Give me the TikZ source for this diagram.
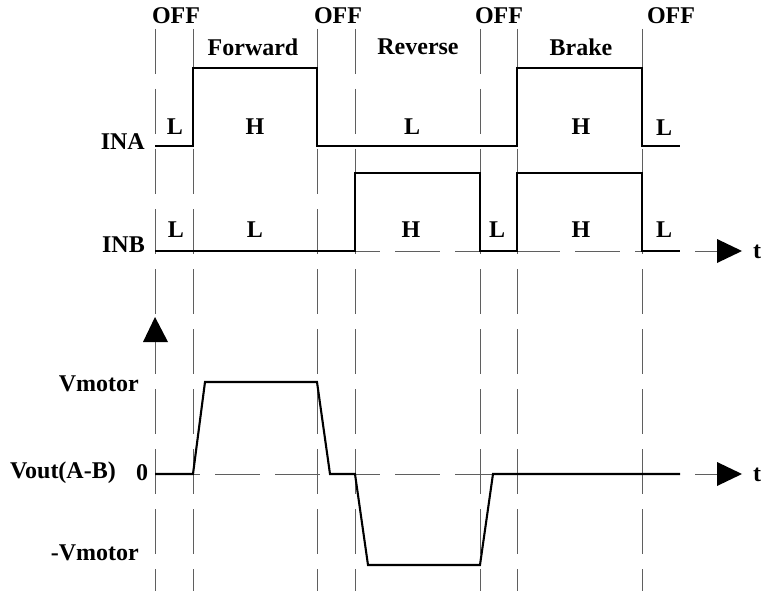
\documentclass[tikz,border=0pt]{standalone}
\usepackage{fontspec}
\setmainfont{Liberation Serif}
\definecolor{gridgray}{RGB}{95,95,95}
\begin{document}
\begin{tikzpicture}[x=1pt,y=-1pt,
  sig/.style={line width=2.1pt, line join=miter},
  gridline/.style={draw=gridgray, line width=1pt, dash pattern=on 45pt off 15pt},
  lbl/.style={font=\fontsize{24}{28}\selectfont\bfseries, inner sep=0pt},
  tip/.style={fill=black}]
\useasboundingbox (0,0) rectangle (763,591);
% vertical dashed lines
\foreach \x in {155,193,317,355,480,517,642}
  \draw[gridline] (\x,29) -- (\x,591);
% horizontal axes
\coordinate (tb0) at (155,251);
\coordinate (tb1) at (717,251);
\coordinate (tv0) at (155,474);
\coordinate (tv1) at (717,474);
\draw[gridline] (tb0) -- (tb1);
\draw[gridline] (tv0) -- (tv1);
% arrow heads
\fill[tip] (717,239) -- (742,251) -- (717,263) -- cycle;
\fill[tip] (717,462) -- (742,474) -- (717,486) -- cycle;
\fill[tip] (143,342) -- (155,317) -- (168,342) -- cycle;
% signals
\draw[sig] (155,146) -| (193,68) -| (317,146) -| (517,68) -| (642,146) -- (680,146);
\draw[sig] (155,251) -| (355,173) -| (480,251) -| (517,173) -| (642,251) -- (680,251);
\draw[sig] (155,474) -- (193,474) -- (205,382) -- (317,382) -- (330,474) -- (355,474)
  -- (368,565) -- (480,565) -- (493,474) -- (680,474);
% top labels
\node[lbl] (off1) at (176,16) {OFF};
\node[lbl] (off2) at (338,16) {OFF};
\node[lbl] (off3) at (499,16) {OFF};
\node[lbl] (off4) at (671,16) {OFF};
\node[lbl] (fwd) at (253,47) {Forward};
\node[lbl] (rev) at (418,47) {Reverse};
\node[lbl] (brk) at (581,47) {Brake};
% INA levels
\node[lbl] (a1) at (175,127) {L};
\node[lbl] (a2) at (255,127) {H};
\node[lbl] (a3) at (412,127) {L};
\node[lbl] (a4) at (581,127) {H};
\node[lbl] (a5) at (664,128) {L};
% INB levels
\node[lbl] (b1) at (176,230) {L};
\node[lbl] (b2) at (255,230) {L};
\node[lbl] (b3) at (411,230) {H};
\node[lbl] (b4) at (497,230) {L};
\node[lbl] (b5) at (581,230) {H};
\node[lbl] (b6) at (664,230) {L};
% left labels
\node[lbl, anchor=east] (ina) at (145,142) {INA};
\node[lbl, anchor=east] (inb) at (145,245) {INB};
\node[lbl, anchor=east] (vm) at (139,384) {Vmotor};
\node[lbl, anchor=east] (vout) at (116,473) {Vout(A-B)};
\node[lbl] (zero) at (142,473) {0};
\node[lbl, anchor=east] (nvm) at (139,553) {-Vmotor};
\node[lbl] (t1) at (757,252) {t};
\node[lbl] (t2) at (757,475) {t};
\end{tikzpicture}
\end{document}
